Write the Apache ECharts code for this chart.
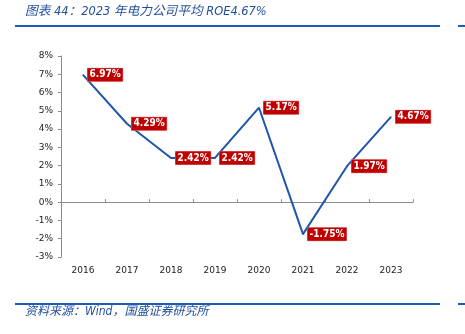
<!DOCTYPE html>
<html>
<head>
<meta charset="utf-8">
<style>
html,body{margin:0;padding:0;background:#fff;}
#c{width:465px;height:334px;}
</style>
<script src="https://cdn.jsdelivr.net/npm/echarts@6/dist/echarts.min.js"></script>
</head>
<body>
<div id="c"></div>
<script>
const categories = ['2016', '2017', '2018', '2019', '2020', '2021', '2022', '2023'];
const roeValues = [6.97, 4.29, 2.42, 2.42, 5.17, -1.75, 1.97, 4.67];
const yMin = -3, yMax = 8, yStep = 1;
const titleText = '图表 44：2023 年电力公司平均 ROE4.67%';
const sourceText = '资料来源：Wind，国盛证券研究所';

const latin = '"DejaVu Sans", sans-serif';
const chart = echarts.init(document.getElementById('c'), null, {renderer: 'canvas'});
chart.setOption({
  animation: false,
  backgroundColor: '#ffffff',
  grid: {left: 61, right: 52, top: 56, bottom: 77, containLabel: false},
  graphic: [
    {type: 'text', left: 25, top: 5, style: {text: titleText, fill: '#1F4E9C', fontSize: 12.7, fontStyle: 'italic', fontFamily: 'Tahoma, "DejaVu Sans Condensed", "Noto Sans CJK SC", sans-serif'}},
    {type: 'rect', shape: {x: 15, y: 25, width: 425, height: 2}, style: {fill: '#1F5BB5'}},
    {type: 'rect', shape: {x: 458, y: 25, width: 7, height: 2}, style: {fill: '#1F5BB5'}},
    {type: 'rect', shape: {x: 15, y: 303, width: 425, height: 2}, style: {fill: '#1F5BB5'}},
    {type: 'rect', shape: {x: 458, y: 303, width: 7, height: 2}, style: {fill: '#1F5BB5'}},
    {type: 'text', left: 25, top: 306, style: {text: sourceText, fill: '#1F4E9C', fontSize: 12, fontStyle: 'italic', fontFamily: 'Tahoma, "DejaVu Sans Condensed", "Noto Sans CJK SC", sans-serif'}}
  ],
  xAxis: [
    {
      type: 'category', data: categories, position: 'bottom',
      axisLine: {show: true, onZero: true, lineStyle: {color: '#8C8C8C', width: 1}},
      axisTick: {show: true, inside: true, length: 3, lineStyle: {color: '#8C8C8C'}},
      axisLabel: {show: false},
      splitLine: {show: false}
    },
    {
      type: 'category', data: categories, position: 'bottom',
      axisLine: {show: false, onZero: false},
      axisTick: {show: false},
      axisLabel: {show: true, color: '#222222', fontSize: 9, fontFamily: latin, margin: 9},
      splitLine: {show: false}
    }
  ],
  yAxis: {
    type: 'value', min: yMin, max: yMax, interval: yStep,
    axisLine: {show: true, lineStyle: {color: '#8C8C8C', width: 1}},
    axisTick: {show: true, length: 3, lineStyle: {color: '#8C8C8C'}},
    axisLabel: {color: '#222222', fontSize: 9, fontFamily: latin, margin: 8, formatter: '{value}%'},
    splitLine: {show: false}
  },
  series: [{
    type: 'line', data: roeValues, xAxisIndex: 0,
    symbol: 'circle', symbolSize: 1, showSymbol: true, showAllSymbol: true,
    itemStyle: {color: '#1F56A8'},
    lineStyle: {color: '#1F56A8', width: 2},
    label: {
      show: true, position: 'right', distance: 4,
      formatter: p => p.value.toFixed(2) + '%',
      color: '#ffffff', fontWeight: 'bold', fontSize: 10, fontFamily: '"DejaVu Sans Condensed", "DejaVu Sans", sans-serif',
      backgroundColor: '#C00000', padding: [2, 2, 1, 2],
      borderColor: '#E07070', borderWidth: 0.5
    },
    labelLayout: {hideOverlap: false}
  }]
});
</script>
</body>
</html>
